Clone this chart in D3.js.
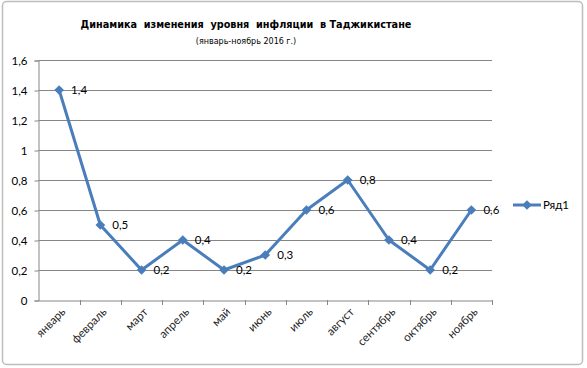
<!DOCTYPE html>
<html><head><meta charset="utf-8">
<script src="https://cdn.jsdelivr.net/npm/d3@7"></script>
<style>
body{margin:0;background:#fff;}
svg{display:block;}
</style></head>
<body>
<svg id="c" width="587" height="368"></svg>
<script>
const months = ["январь","февраль","март","апрель","май","июнь","июль","август","сентябрь","октябрь","ноябрь"];
const values = [1.4,0.5,0.2,0.4,0.2,0.3,0.6,0.8,0.4,0.2,0.6];
const yTicks = [0,0.2,0.4,0.6,0.8,1,1.2,1.4,1.6];
const seriesName = "Ряд1";
const title = "Динамика  изменения  уровня  инфляции  в Таджикистане";
const subtitle = "(январь-ноябрь 2016 г.)";

const svg = d3.select("#c");
const color = "#4A7EBB";
const fmt = v => String(v).replace(".", ",");
const font = "Lato, 'Open Sans', sans-serif";

// frame
svg.append("rect").attr("x",2.5).attr("y",1.5).attr("width",580).attr("height",363)
  .attr("rx",4).attr("fill","#fff").attr("stroke","#bdbdbd").attr("stroke-width",1.5);

const x = d3.scaleBand().domain(months).range([38.5,492]);
const y = d3.scaleLinear().domain([0,1.6]).range([300,60]);

// gridlines
svg.append("g").selectAll("line").data(yTicks.filter(d=>d>0)).join("line")
  .attr("x1",38.5).attr("x2",492).attr("y1",d=>Math.round(y(d))+0.5).attr("y2",d=>Math.round(y(d))+0.5)
  .attr("stroke","#868686").attr("stroke-width",1);

// y axis
const yAxis = svg.append("g").attr("transform","translate(38.5,0.5)")
  .call(d3.axisLeft(y).tickValues(yTicks).tickFormat(fmt).tickSize(4).tickPadding(7));
yAxis.select(".domain").attr("stroke","#868686");
yAxis.selectAll(".tick line").attr("stroke","#868686");
yAxis.selectAll("text").attr("font-family",font).attr("font-size",11.5).attr("fill","#000");

// x axis
const xAxis = svg.append("g").attr("transform","translate(0,300.5)")
  .call(d3.axisBottom(x).tickSize(0).tickSizeOuter(0));
xAxis.select(".domain").attr("stroke","#868686");
xAxis.selectAll(".tick line").remove();
// tick marks at band boundaries
svg.append("g").selectAll("line").data(months).join("line")
  .attr("x1",d=>Math.round(x(d)+x.bandwidth())+0.5).attr("x2",d=>Math.round(x(d)+x.bandwidth())+0.5)
  .attr("y1",300).attr("y2",305).attr("stroke","#868686");
xAxis.selectAll("text")
  .attr("font-family",font).attr("font-size",11.5).attr("fill","#222")
  .attr("text-anchor","end").attr("dy",0)
  .attr("transform",d=>`translate(5,10) rotate(-45)`);

// line
const line = d3.line().x((d,i)=>x(months[i])+x.bandwidth()/2).y(d=>y(d));
svg.append("path").datum(values).attr("d",line).attr("fill","none")
  .attr("stroke",color).attr("stroke-width",3).attr("stroke-linejoin","round");

const diamond = d3.symbol().type(d3.symbolDiamond2).size(60);
svg.append("g").selectAll("path").data(values).join("path")
  .attr("d",diamond)
  .attr("transform",(d,i)=>`translate(${x(months[i])+x.bandwidth()/2},${y(d)})`)
  .attr("fill",color);

// data labels
svg.append("g").selectAll("text").data(values).join("text")
  .attr("x",(d,i)=>x(months[i])+x.bandwidth()/2+12)
  .attr("y",d=>y(d)+4)
  .attr("font-family",font).attr("font-size",11.5).attr("fill","#000")
  .text(fmt);

// title
svg.append("text").attr("x",246).attr("y",28).attr("text-anchor","middle")
  .attr("font-family","'DejaVu Sans', sans-serif").attr("font-weight","bold").attr("font-size",9.7)
  .attr("xml:space","preserve").style("white-space","pre").text(title);
svg.append("text").attr("x",246).attr("y",44).attr("text-anchor","middle")
  .attr("font-family","'DejaVu Sans', sans-serif").attr("font-size",8).text(subtitle);

// legend
const lg = svg.append("g");
lg.append("line").attr("x1",513).attr("x2",541).attr("y1",205).attr("y2",205)
  .attr("stroke",color).attr("stroke-width",3);
lg.append("path").attr("d",diamond).attr("transform","translate(527,205)").attr("fill",color);
lg.append("text").attr("x",543).attr("y",209).attr("font-family",font).attr("font-size",11.5).text(seriesName);
</script>
</body></html>
